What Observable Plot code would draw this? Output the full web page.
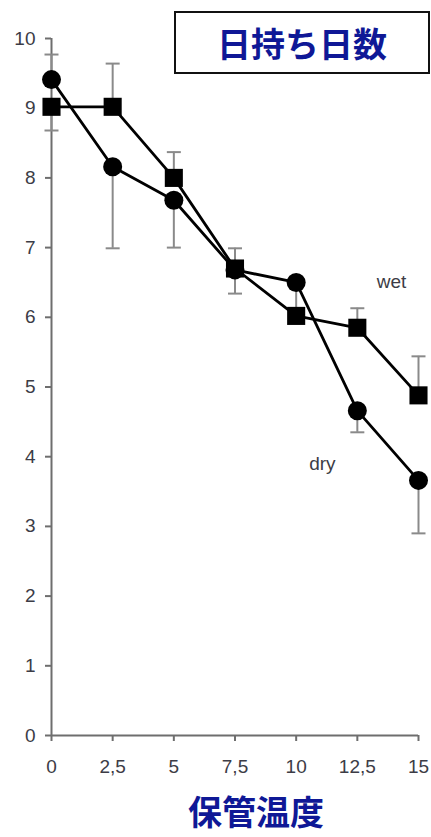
<!DOCTYPE html>
<html><head><meta charset="utf-8">
<script src="https://cdn.jsdelivr.net/npm/d3@7"></script>
<script src="https://cdn.jsdelivr.net/npm/@observablehq/plot@0.6"></script>
<style>
html,body{margin:0;padding:0;background:#fff;}
#wrap{position:relative;width:431px;height:837px;overflow:hidden;background:#fff;}
#wrap svg{position:absolute;left:0;top:0;}
#title{position:absolute;left:174px;top:11px;width:252px;height:59px;border:2px solid #111;display:flex;align-items:center;justify-content:center;font-family:"Noto Sans CJK JP";font-weight:bold;font-size:34px;color:#0f1896;background:#fff;line-height:1;}
#xlabel{position:absolute;left:188px;top:792px;font-family:"Noto Sans CJK JP";font-weight:bold;font-size:34px;line-height:1.1;color:#0f1896;white-space:nowrap;}
</style>
</head><body>
<div id="wrap"></div>
<script>
// Data
const temps = [0, 2.5, 5, 7.5, 10, 12.5, 15];
const wetDays = [9.02, 9.02, 8.0, 6.70, 6.02, 5.85, 4.88];
const dryDays = [9.41, 8.16, 7.68, 6.68, 6.50, 4.66, 3.66];
// error half-bars: drawn from a point value to its end value
const errX    = [0, 0, 2.5, 2.5, 5, 5, 7.5, 7.5, 10, 12.5, 12.5, 15, 15];
const errFrom = [9.41, 9.02, 9.02, 8.16, 8.0, 7.68, 6.70, 6.68, 6.50, 5.85, 4.66, 4.88, 3.66];
const errTo   = [9.77, 8.68, 9.64, 6.99, 8.37, 7.00, 6.99, 6.34, 6.02, 6.13, 4.35, 5.44, 2.90];
const xTickLabels = ["0", "2,5", "5", "7,5", "10", "12,5", "15"];
const yTicks = [0, 1, 2, 3, 4, 5, 6, 7, 8, 9, 10];
const seriesLabels = [
  {name: "wet", x: 13.9, y: 6.51},
  {name: "dry", x: 11.07, y: 3.89}
];
const titleText = "日持ち日数";
const xTitleText = "保管温度";

const wet = temps.map((x, i) => ({x, y: wetDays[i]}));
const dry = temps.map((x, i) => ({x, y: dryDays[i]}));
const err = errX.map((x, i) => ({x, from: errFrom[i], to: errTo[i]}));

const capSymbol = {
  draw(context, size) {
    const w = Math.sqrt(size / Math.PI);
    context.moveTo(-w, 0);
    context.lineTo(w, 0);
  }
};

const axisGray = "#6e6e6e";
const textGray = "#3c3c46";
const errGray = "#8a8a8a";

const chart = Plot.plot({
  width: 431,
  height: 837,
  marginTop: 38,
  marginBottom: 102,
  marginLeft: 51,
  marginRight: 13,
  style: {fontFamily: "Liberation Sans, Arial, sans-serif", fontSize: "19px", background: "transparent"},
  x: {domain: [0, 15]},
  y: {domain: [0, 10]},
  marks: [
    Plot.axisY({ticks: yTicks, tickSize: 6, tickPadding: 10, stroke: axisGray, strokeWidth: 2, fill: textGray, fontSize: 19, label: null}),
    Plot.axisX({ticks: temps, tickSize: 6, tickPadding: 18, stroke: axisGray, strokeWidth: 2, fill: textGray, fontSize: 19, label: null,
      tickFormat: d => xTickLabels[temps.indexOf(d)]}),
    Plot.ruleX([0], {y1: 0, y2: 10, stroke: axisGray, strokeWidth: 2}),
    Plot.ruleY([0], {x1: 0, x2: 15, stroke: axisGray, strokeWidth: 2}),
    Plot.ruleX(err, {x: "x", y1: "from", y2: "to", stroke: errGray, strokeWidth: 2}),
    Plot.dot(err, {x: "x", y: "to", symbol: capSymbol, r: 7, stroke: errGray, strokeWidth: 2, fill: "none"}),
    Plot.line(dry, {x: "x", y: "y", stroke: "#000", strokeWidth: 2.8}),
    Plot.line(wet, {x: "x", y: "y", stroke: "#000", strokeWidth: 2.8}),
    Plot.dot(dry, {x: "x", y: "y", r: 9.5, fill: "#000", stroke: "none"}),
    Plot.dot(wet, {x: "x", y: "y", symbol: "square", r: 10.2, fill: "#000", stroke: "none"}),
    Plot.text(seriesLabels, {x: "x", y: "y", text: "name", fill: textGray, fontSize: 19, fontFamily: "Liberation Sans, Arial, sans-serif"})
  ]
});

const wrap = document.getElementById("wrap");
wrap.appendChild(chart);
const t = document.createElement("div");
t.id = "title";
t.textContent = titleText;
wrap.appendChild(t);
const xl = document.createElement("div");
xl.id = "xlabel";
xl.textContent = xTitleText;
wrap.appendChild(xl);
</script>
</body></html>
